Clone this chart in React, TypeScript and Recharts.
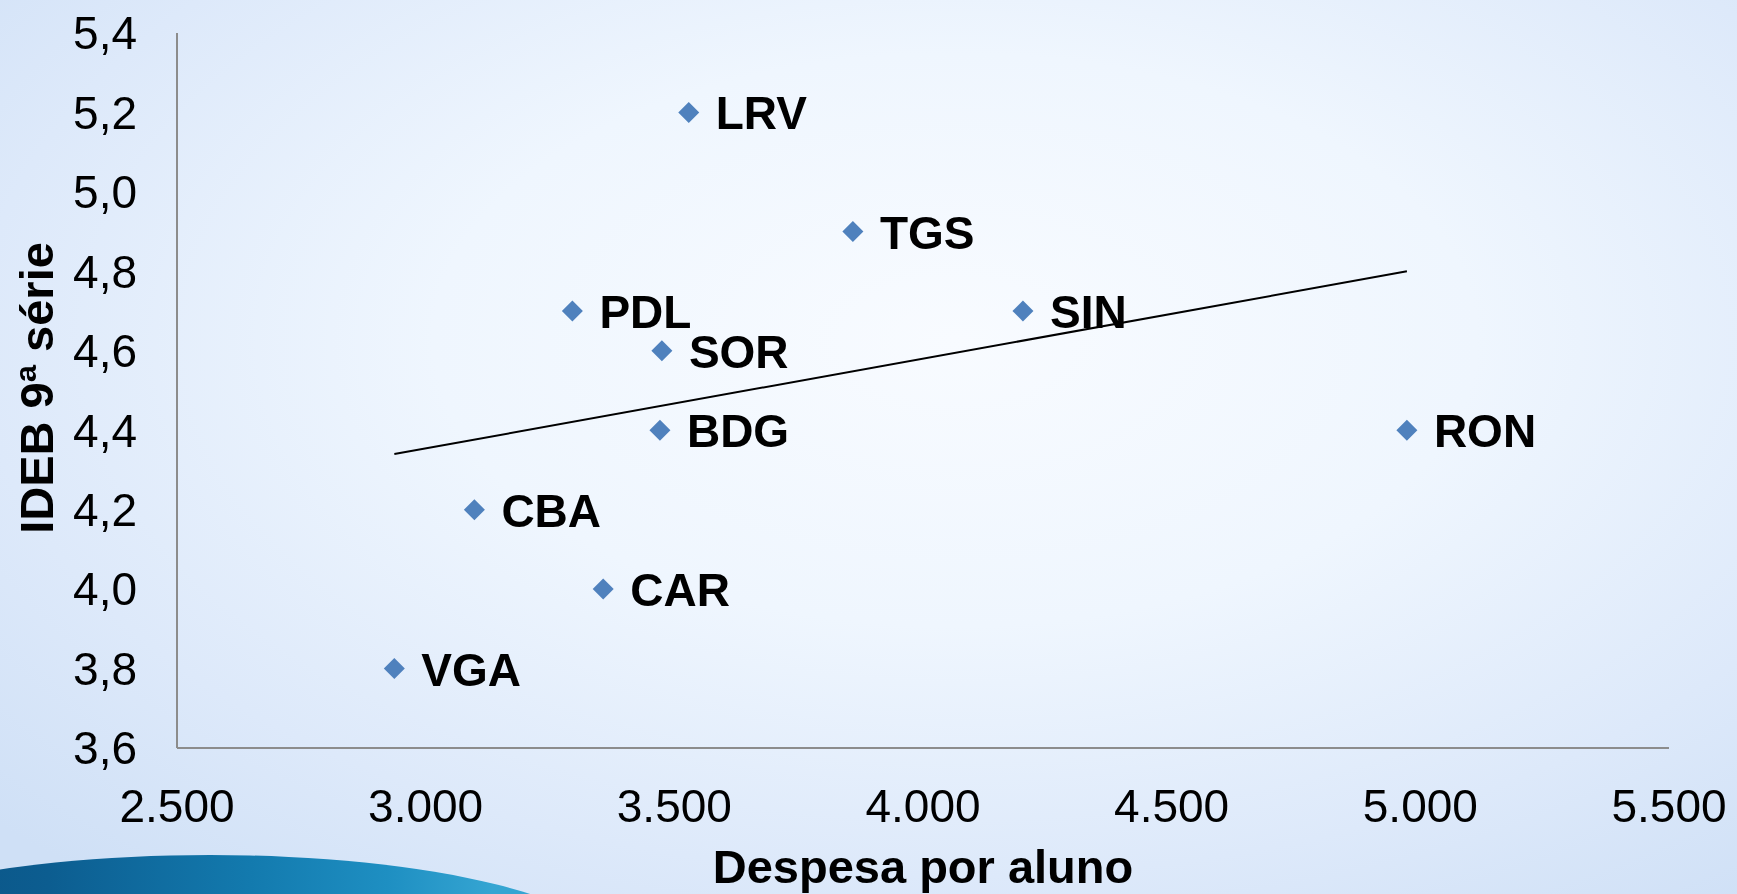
import { ScatterChart, Scatter, XAxis, YAxis } from 'recharts'

const cities = ['LRV', 'TGS', 'PDL', 'SOR', 'SIN', 'BDG', 'RON', 'CBA', 'CAR', 'VGA']
const despesa = [3529, 3859, 3295, 3475, 4201, 3471, 4973, 3098, 3357, 2937]
const ideb = [5.2, 4.9, 4.7, 4.6, 4.7, 4.4, 4.4, 4.2, 4.0, 3.8]

// trend line end points
const trendX = [2937, 4973]
const trendY = [4.34, 4.8]

const xTicks = [2500, 3000, 3500, 4000, 4500, 5000, 5500]
const yTicks = [3.6, 3.8, 4.0, 4.2, 4.4, 4.6, 4.8, 5.0, 5.2, 5.4]

const points = cities.map((name, i) => ({ name, x: despesa[i], y: ideb[i] }))
const trend = trendX.map((x, i) => ({ x, y: trendY[i] }))

const FONT = '"Liberation Sans", Arial, sans-serif'

const fmtX = (v: number) => v.toLocaleString('de-DE')
const fmtY = (v: number) => v.toFixed(1).replace('.', ',')

const Diamond = (props: any) => {
  const { cx, cy, payload } = props
  const r = 10.5
  return (
    <g>
      <polygon
        points={`${cx},${cy - r} ${cx + r},${cy} ${cx},${cy + r} ${cx - r},${cy}`}
        fill="#4F81BD"
      />
      <text
        x={cx + 27}
        y={cy}
        dy="0.37em"
        fontFamily={FONT}
        fontSize={46}
        fontWeight="bold"
        fill="#000"
      >
        {payload.name}
      </text>
    </g>
  )
}

const App = () => {
  return (
    <div
      style={{
        position: 'fixed',
        left: 0,
        top: 0,
        width: 1737,
        height: 894,
        overflow: 'hidden',
        fontFamily: FONT,
        background:
          'radial-gradient(ellipse 75% 80% at 55% 38%, #f8fbff 0%, #eff6fe 40%, #dde9fa 75%, #cfe0f6 100%)',
      }}
    >
      {/* swoosh in the bottom-left corner */}
      <div
        style={{
          position: 'absolute',
          left: 210 - 404,
          top: 855,
          width: 808,
          height: 200,
          borderRadius: '50%',
          background: 'linear-gradient(90deg, #0a4c7c 0%, #0c5d90 30%, #137aae 55%, #1e8fc2 72%, #35a5d2 85%)',
        }}
      />
      <div style={{ position: 'absolute', left: 0, top: 0 }}>
        <ScatterChart width={1737} height={894} margin={{ top: 33, right: 68, bottom: 0, left: 0 }}>
          <XAxis
            type="number"
            dataKey="x"
            domain={[2500, 5500]}
            ticks={xTicks}
            tickFormatter={fmtX}
            height={146}
            tickLine={false}
            tickSize={0}
            tickMargin={41}
            axisLine={{ stroke: '#8c8c8c', strokeWidth: 2 }}
            tick={{ fill: '#000', fontSize: 46, fontFamily: FONT }}
            interval={0}
          />
          <YAxis
            type="number"
            dataKey="y"
            domain={[3.6, 5.4]}
            ticks={yTicks}
            tickFormatter={fmtY}
            width={177}
            tickLine={false}
            tickSize={0}
            tickMargin={40}
            axisLine={{ stroke: '#8c8c8c', strokeWidth: 2 }}
            tick={{ fill: '#000', fontSize: 46, fontFamily: FONT }}
            interval={0}
          />
          <Scatter
            data={trend}
            line={{ stroke: '#000', strokeWidth: 2 }}
            shape={() => null}
            isAnimationActive={false}
          />
          <Scatter data={points} shape={Diamond} isAnimationActive={false} />
        </ScatterChart>
      </div>
      <div
        style={{
          position: 'absolute',
          left: 177,
          width: 1492,
          top: 840,
          textAlign: 'center',
          fontSize: 47,
          fontWeight: 'bold',
          lineHeight: '54px',
          color: '#000',
        }}
      >
        Despesa por aluno
      </div>
      <div
        style={{
          position: 'absolute',
          left: 37 - 200,
          top: 388 - 27,
          width: 400,
          lineHeight: '54px',
          textAlign: 'center',
          fontSize: 47,
          fontWeight: 'bold',
          color: '#000',
          transform: 'rotate(-90deg)',
        }}
      >
        IDEB 9ª série
      </div>
    </div>
  )
}

export default App
